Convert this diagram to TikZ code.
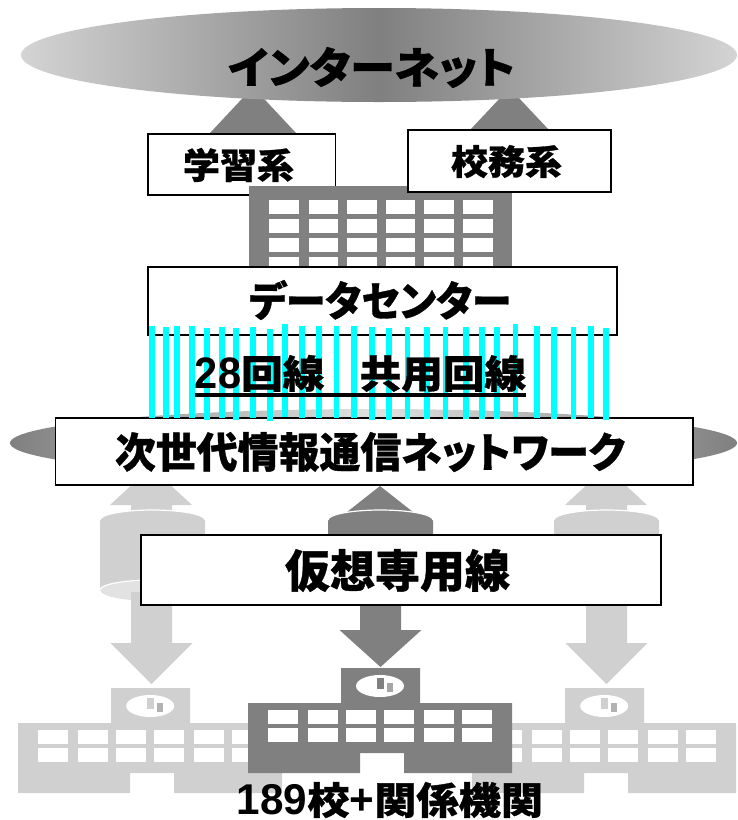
\documentclass[tikz,border=0pt]{standalone}
\usepackage{fontspec}
\usepackage{graphicx}
\newfontfamily\jpb{Noto Sans CJK JP}[RawFeature=+palt,BoldFeatures={FakeBold=0.8}]
\newfontfamily\latb{Liberation Sans}
\definecolor{gdark}{gray}{0.5}
\definecolor{glight}{gray}{0.816}
\definecolor{gpale}{gray}{0.885}
\definecolor{gedge}{gray}{0.83}
\definecolor{gbarl}{gray}{0.7}
\definecolor{gbard}{gray}{0.65}
\definecolor{linecyan}{rgb}{0,1,1}
\newcommand{\fitted}[3]{\resizebox*{#1pt}{#2pt}{\jpb\bfseries #3}}
\newcommand{\tallnum}[1]{\scalebox{1}[1.14]{\latb\bfseries #1}}
\newcommand{\windowrow}[1]{%
  \foreach \wx in {0,39.5,78,116.5,155,194} {\fill[white] (\wx,#1) rectangle ++(29.5,14);}}
\newcommand{\schoolshape}[4]{% dx, dy, colour, bar colour
  \begin{scope}[shift={(#1,#2)}]
    \fill[#3] (341,668) -- (420,668) -- (420,703) -- (512,703) -- (512,773) -- (404,773) -- (404,753) -- (360,753) -- (360,773) -- (248,773) -- (248,703) -- (341,703) -- cycle;
    \foreach \wx in {268,308,346,384,424,462} {
      \fill[white] (\wx,710) rectangle ++(29.5,14);
      \fill[white] (\wx,728) rectangle ++(29.5,14);
    }
    \fill[white] (380,686) ellipse [x radius=24, y radius=11];
    \fill[#3] (377,678) rectangle (383.5,689);
    \fill[#4] (387,683) rectangle (393,692);
  \end{scope}}
\newcommand{\cylshape}[3]{% left x, colour, base colour
  \begin{scope}[shift={(#1,0)}]
    \fill[#3] (52.5,590) ellipse [x radius=52.5, y radius=11];
    \fill[#2] (0,520) .. controls (0,514.5) and (23.5,510) .. (52.5,510) .. controls (81.5,510) and (105,514.5) .. (105,520)
      -- (105,590) .. controls (105,584.5) and (81.5,580) .. (52.5,580) .. controls (23.5,580) and (0,584.5) .. (0,590) -- cycle;
    \draw[white,line width=1.2pt] (0,520) .. controls (0,514.5) and (23.5,510) .. (52.5,510) .. controls (81.5,510) and (105,514.5) .. (105,520);
    \draw[white,line width=1.2pt] (0,590) .. controls (0,584.5) and (23.5,580) .. (52.5,580) .. controls (81.5,580) and (105,584.5) .. (105,590);
  \end{scope}}
\newcommand{\downarrowshape}[5]{% centre x, shaft top, head y, tip y, colour
  \fill[#5] (#1-20.5,#2) -- (#1+20.5,#2) -- (#1+20.5,#3) -- (#1+41,#3) -- (#1,#4) -- (#1-41,#3) -- (#1-20.5,#3) -- cycle;}
\tikzset{
  labelbox/.style={draw=black,fill=white,line width=1.6pt},
  caption/.style={inner sep=0pt,outer sep=0pt},
  lineband/.style={line width=5.6pt,draw=linecyan}
}
\begin{document}
\begin{tikzpicture}[x=1pt,y=-1pt]
\useasboundingbox (0,0) rectangle (737,820);
% arrows to the internet
\fill[gdark] (253,87) -- (296,133) -- (210,133) -- cycle;
\fill[gdark] (509.5,88) -- (549,130) -- (470,130) -- cycle;
% internet
\shade[left color=gedge,right color=gedge,middle color=gdark] (379,55) ellipse [x radius=358, y radius=47];
% system boxes and data centre
\draw[labelbox] (148,134) rectangle (335.5,195);
\fill[gdark] (249,186) rectangle (512,268);
\begin{scope}[shift={(269,0)}]
  \windowrow{200}\windowrow{219}\windowrow{238}\windowrow{257}
\end{scope}
\draw[labelbox] (408,130) rectangle (611,192);
\draw[labelbox] (148,267) rectangle (617,335);
% network ellipse
\shade[left color=gdark,right color=gdark,middle color=gpale] (373.5,443) ellipse [x radius=363.5, y radius=34];
% up arrows and cylinders
\fill[glight] (151,467) -- (192,505) -- (172,505) -- (172,512) -- (131,512) -- (131,505) -- (110,505) -- cycle;
\fill[glight] (606,467) -- (647,505) -- (627,505) -- (627,512) -- (586,512) -- (586,505) -- (565,505) -- cycle;
\fill[gdark] (380,486) -- (415.5,514) -- (344.5,514) -- cycle;
\cylshape{100}{glight}{gpale}
\cylshape{328}{gdark}{gpale}
\cylshape{554}{glight}{gpale}
% down arrows
\downarrowshape{151.5}{592}{643}{684}{glight}
\downarrowshape{606.5}{600}{643}{684}{glight}
\downarrowshape{380.5}{600}{630}{667}{gdark}
% main boxes
\draw[labelbox] (55.5,418) rectangle (693,485);
\draw[labelbox] (141,535) rectangle (661,605);
% 28 lines
\foreach \lx/\lt/\lb in {151.8/326/418,165.9/327/418,177.2/326/418,191.7/326/418,207.2/328/420,221.8/327/418,235.9/328/420,252.8/327/418,269.7/329/421,285.2/324/417,302.2/326/418,319.1/326/418,336.5/326/418,353.8/326/418,371.7/327/420,389.1/328/420,407.4/327/419,427.2/327/419,445.5/327/419,466.2/327/419,481.7/327/419,497.2/327/419,515.5/324/417,536.7/326/418,554/327/419,573.3/327/419,590.7/326/418,606.2/328/420}
  \draw[lineband] (\lx,\lt) -- (\lx,\lb);
% schools
\schoolshape{-229.8}{20}{glight}{gbarl}
\schoolshape{224.2}{20}{glight}{gbarl}
\schoolshape{0}{0}{gdark}{gbard}
% texts
\node[caption] (inet) at (371.5,67.5) {\fitted{287}{41}{インターネット}};
\node[caption] (study) at (238.5,165) {\fitted{111}{34}{学習系}};
\node[caption] (admin) at (506.5,161.5) {\fitted{111}{33}{校務系}};
\node[caption] (dc) at (380,300) {\fitted{262}{40}{データセンター}};
\node[caption] (lines) at (360.5,373.5) {\fitted{331}{37}{\tallnum{28}回線\hspace{0.85em}共用回線}};
\draw[line width=3.6pt] (lines.west |- 0,395) -- (lines.east |- 0,395);
\node[caption] (net) at (370,452) {\fitted{510}{40}{次世代情報通信ネットワーク}};
\node[caption] (vpn) at (397.5,570.5) {\fitted{225}{43}{仮想専用線}};
\node[caption] (sch) at (390,800) {\fitted{306}{36}{\tallnum{189}校\tallnum{+}関係機関}};
\end{tikzpicture}
\end{document}
